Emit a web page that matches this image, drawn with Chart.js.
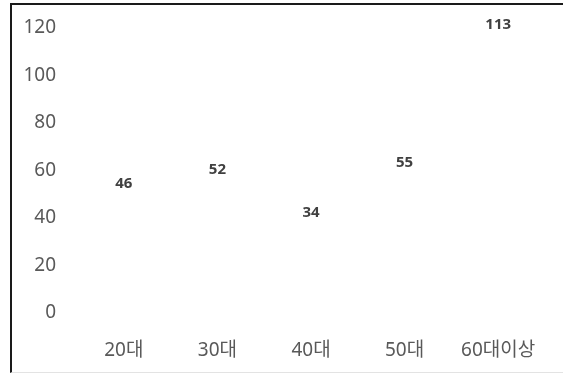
<!DOCTYPE html>
<html lang="ko">
<head>
    <meta charset="UTF-8">
    <title>연령대별</title>
    <script src="https://cdn.jsdelivr.net/npm/chart.js"></script>
    <style>
        body {
            margin: 0;
            background-color: white;
        }
        .frame {
            position: absolute;
            left: 10px;
            top: 3px;
            width: 553px;
            height: 370px;
            border-left: 2px solid #1a1a1a;
            border-top: 2px solid #1a1a1a;
            border-bottom: 1px solid #e3e3e3;
            box-sizing: border-box;
        }
        #ageChart {
            position: absolute;
            left: 0;
            top: 0;
        }
    </style>
</head>
<body>
    <div class="frame"></div>
    <canvas id="ageChart" width="563" height="374"></canvas>

    <script>
        const ageGroups = ['20대', '30대', '40대', '50대', '60대이상'];
        const counts = [46, 52, 34, 55, 113];
        const yTicks = [0, 20, 40, 60, 80, 100, 120];

        const fontFamily = '"Noto Sans", "Noto Sans CJK KR", sans-serif';

        // values are written above each (hidden) point
        const valueLabels = {
            id: 'valueLabels',
            afterDatasetsDraw(chart) {
                const ctx = chart.ctx;
                const meta = chart.getDatasetMeta(0);
                ctx.save();
                ctx.font = 'bold 15px ' + fontFamily;
                ctx.fillStyle = '#404040';
                ctx.textAlign = 'center';
                ctx.textBaseline = 'middle';
                meta.data.forEach((pt, i) => {
                    ctx.fillText(String(counts[i]), pt.x, pt.y - 20);
                });
                ctx.restore();
            }
        };

        new Chart(document.getElementById('ageChart'), {
            type: 'line',
            data: {
                labels: ageGroups,
                datasets: [{
                    data: counts,
                    showLine: false,
                    pointRadius: 0,
                    pointHoverRadius: 0
                }]
            },
            options: {
                responsive: false,
                animation: false,
                layout: {
                    padding: { top: 28, right: 17, bottom: 0, left: 0 }
                },
                plugins: {
                    legend: { display: false },
                    tooltip: { enabled: false }
                },
                scales: {
                    x: {
                        offset: true,
                        grid: { display: false, drawTicks: false },
                        border: { display: false },
                        ticks: {
                            color: '#595959',
                            font: { family: fontFamily, size: 19 },
                            padding: 26,
                            maxRotation: 0
                        },
                        afterFit(scale) { scale.height = 61; }
                    },
                    y: {
                        min: 0,
                        max: 120,
                        afterBuildTicks(scale) {
                            scale.ticks = yTicks.map(v => ({ value: v }));
                        },
                        grid: { display: false, drawTicks: false },
                        border: { display: false },
                        ticks: {
                            color: '#595959',
                            font: { family: fontFamily, size: 19 },
                            padding: 21
                        },
                        afterFit(scale) {
                            scale.width = 77;
                            scale.paddingTop = 0;
                            scale.paddingBottom = 0;
                        }
                    }
                }
            },
            plugins: [valueLabels]
        });
    </script>
</body>
</html>
